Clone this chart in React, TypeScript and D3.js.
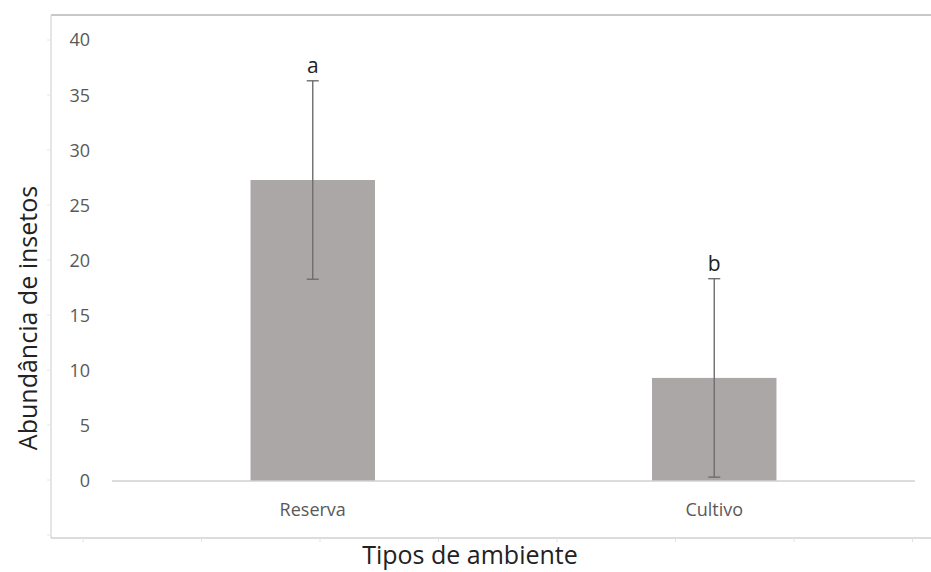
import React from "react";
import * as d3 from "d3";

const categories = ["Reserva", "Cultivo"];
const means = [27.3, 9.35];
const errors = [9.0, 9.0];
const letters = ["a", "b"];
const yTicks = [0, 5, 10, 15, 20, 25, 30, 35, 40];

const W = 931;
const H = 572;
const font = "'Open Sans', 'Noto Sans', sans-serif";

export default function App() {
  const x = d3.scaleBand<string>().domain(categories).range([112, 915]).paddingInner(0.69).paddingOuter(0.345);
  const y = d3.scaleLinear().domain([0, 40]).range([481, 40]);
  const frameTicksX = d3.range(83, 931, 118.5);
  const frameTicksY = d3.range(40, 540, 55);

  return (
    <svg width={W} height={H} style={{ position: "absolute", left: 0, top: 0, background: "#fff" }}>
      {/* outer frame */}
      <line x1={51} x2={W} y1={15} y2={15} stroke="#c8c8c8" strokeWidth={2} />
      <line x1={51} x2={51} y1={15} y2={538} stroke="#d4d4d4" strokeWidth={1.2} />
      <line x1={51} x2={W} y1={538} y2={538} stroke="#d0d0d0" strokeWidth={1.5} />
      {frameTicksX.map((t) => (
        <line key={"fx" + t} x1={t} x2={t} y1={538} y2={542} stroke="#e2e2e2" />
      ))}
      {frameTicksY.map((t) => (
        <line key={"fy" + t} x1={47} x2={51} y1={t} y2={t} stroke="#e6e6e6" />
      ))}

      {/* y tick labels */}
      {yTicks.map((t) => (
        <text key={t} x={90} y={y(t)} dy="0.36em" textAnchor="end" fontSize={18} fill="#595959" fontFamily={font}>
          {t}
        </text>
      ))}

      {/* bars */}
      {categories.map((c, i) => (
        <rect key={c} x={x(c)} y={y(means[i])} width={x.bandwidth()} height={y(0) - y(means[i])} fill="#aaa7a6" />
      ))}

      {/* baseline */}
      <line x1={112} x2={915} y1={y(0)} y2={y(0)} stroke="#d0d0d0" strokeWidth={1.5} />

      {/* error bars */}
      {categories.map((c, i) => {
        const cx = (x(c) as number) + x.bandwidth() / 2;
        const lo = y(Math.max(0.35, means[i] - errors[i]));
        const hi = y(means[i] + errors[i]);
        return (
          <g key={"e" + c} stroke="#6e6e6e" strokeWidth={1.4}>
            <line x1={cx} x2={cx} y1={hi} y2={lo} />
            <line x1={cx - 6} x2={cx + 6} y1={hi} y2={hi} />
            <line x1={cx - 6} x2={cx + 6} y1={lo} y2={lo} />
          </g>
        );
      })}

      {/* significance letters */}
      {categories.map((c, i) => (
        <text
          key={"l" + c}
          x={(x(c) as number) + x.bandwidth() / 2}
          y={y(means[i] + errors[i]) - 8}
          textAnchor="middle"
          fontSize={21}
          fill="#222"
          fontFamily={font}
        >
          {letters[i]}
        </text>
      ))}

      {/* category labels */}
      {categories.map((c) => (
        <text
          key={"c" + c}
          x={(x(c) as number) + x.bandwidth() / 2}
          y={516}
          textAnchor="middle"
          fontSize={18}
          fill="#595959"
          fontFamily={font}
        >
          {c}
        </text>
      ))}

      {/* axis titles */}
      <text x={470} y={564} textAnchor="middle" fontSize={25} fill="#222" fontFamily={font}>
        Tipos de ambiente
      </text>
      <text
        transform="translate(37,318) rotate(-90)"
        textAnchor="middle"
        fontSize={25}
        fill="#222"
        fontFamily={font}
      >
        Abundância de insetos
      </text>
    </svg>
  );
}
